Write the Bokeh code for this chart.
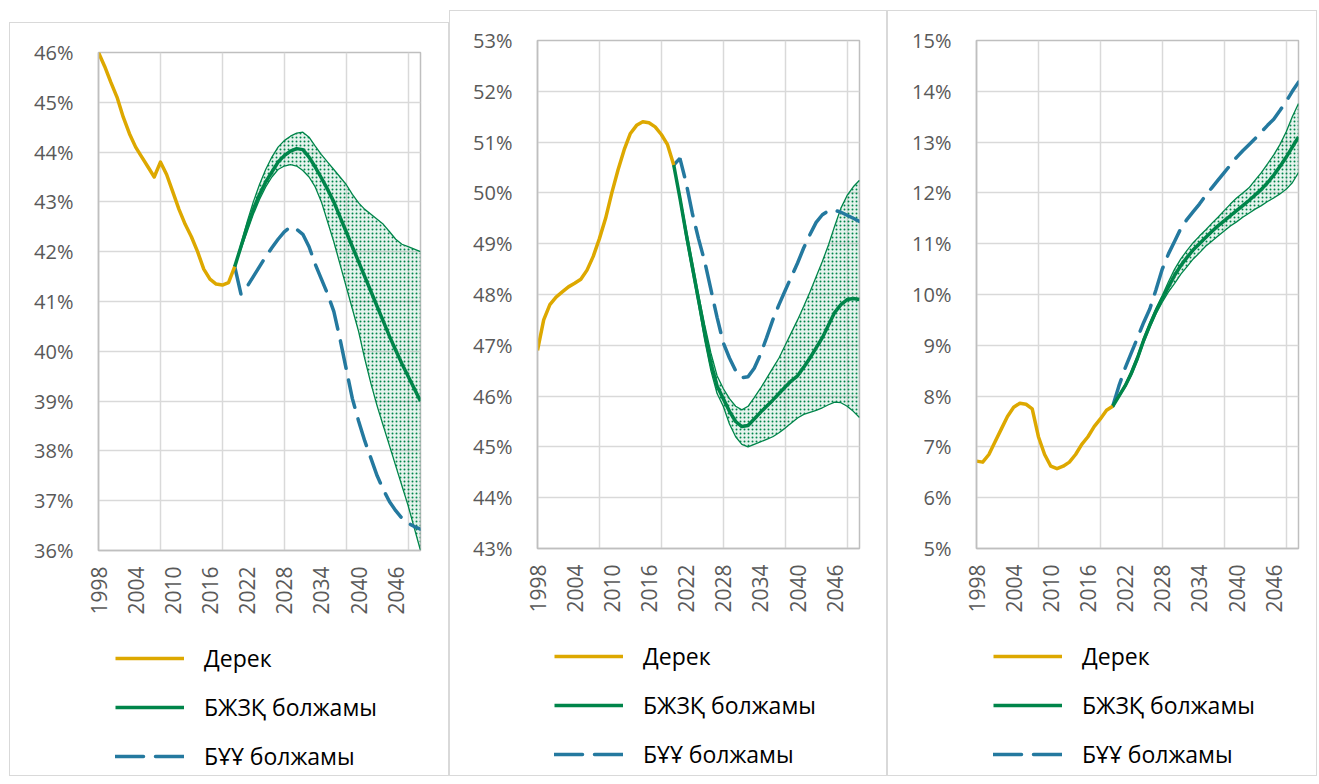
import math
from bokeh.plotting import figure
from bokeh.models import Range1d, FixedTicker, PrintfTickFormatter, Legend, LegendItem
from bokeh.layouts import row, column
from bokeh.embed import file_html
from bokeh.resources import INLINE

FONT = "Open Sans"
YELLOW = "#DDA800"
GREEN = "#00854A"
BLUE = "#24799F"
GRID = "#d9d9d9"
AXIS = "#bfbfbf"

years_hist = list(range(1998, 2021))
years_fc = list(range(2020, 2051))
x_tick_labels = list(range(1998, 2047, 6))
x_grid_years = list(range(1998, 2050, 10))
legend_labels = ["Дерек", "БЖЗҚ болжамы", "БҰҰ болжамы"]

p1_hist = [46.0, 45.72, 45.4, 45.1, 44.7, 44.37, 44.1, 43.9, 43.7, 43.5, 43.8, 43.55,
           43.2, 42.85, 42.55, 42.3, 42.0, 41.65, 41.45, 41.35, 41.33, 41.38, 41.7]
p1_central = [41.7, 42.1, 42.5, 42.85, 43.15, 43.4, 43.6, 43.8, 43.93, 44.02, 44.07, 44.05,
              43.9, 43.7, 43.48, 43.25, 43.0, 42.7, 42.4, 42.1, 41.8, 41.5, 41.2, 40.9,
              40.6, 40.3, 40.02, 39.75, 39.5, 39.25, 39.0]
p1_upper = [41.7, 42.15, 42.6, 43.0, 43.35, 43.65, 43.9, 44.1, 44.23, 44.32, 44.38, 44.4,
            44.3, 44.12, 43.95, 43.8, 43.65, 43.5, 43.35, 43.15, 42.98, 42.85, 42.75, 42.65,
            42.55, 42.4, 42.25, 42.15, 42.1, 42.05, 42.0]
p1_lower = [41.7, 42.05, 42.4, 42.75, 43.05, 43.3, 43.5, 43.65, 43.72, 43.75, 43.72, 43.63,
            43.5, 43.3, 43.0, 42.6, 42.2, 41.75, 41.3, 40.85, 40.4, 39.85, 39.35, 38.9,
            38.5, 38.1, 37.7, 37.3, 36.9, 36.45, 36.0]
p1_un = [41.7, 41.15, 41.3, 41.5, 41.7, 41.9, 42.08, 42.25, 42.4, 42.5, 42.45, 42.35,
         42.1, 41.75, 41.45, 41.15, 40.8, 40.25, 39.65, 39.05, 38.6, 38.2, 37.85, 37.5,
         37.22, 36.98, 36.8, 36.65, 36.55, 36.48, 36.43]

p2_hist = [46.9, 47.5, 47.8, 47.95, 48.05, 48.15, 48.22, 48.3, 48.48, 48.75, 49.1, 49.5,
           50.0, 50.45, 50.85, 51.17, 51.33, 51.4, 51.38, 51.3, 51.15, 50.95, 50.55]
p2_central = [50.55, 49.9, 49.2, 48.55, 47.9, 47.25, 46.65, 46.2, 45.95, 45.7, 45.5, 45.4,
              45.42, 45.55, 45.68, 45.8, 45.92, 46.05, 46.18, 46.3, 46.4, 46.57, 46.75,
              46.95, 47.15, 47.4, 47.65, 47.8, 47.9, 47.92, 47.9]
p2_upper = [50.55, 49.95, 49.3, 48.65, 48.0, 47.4, 46.85, 46.4, 46.15, 45.95, 45.8, 45.73,
            45.8, 45.97, 46.15, 46.35, 46.55, 46.75, 47.0, 47.25, 47.5, 47.77, 48.05,
            48.35, 48.65, 48.98, 49.35, 49.7, 49.95, 50.12, 50.25]
p2_lower = [50.55, 49.85, 49.1, 48.45, 47.8, 47.1, 46.5, 46.05, 45.8, 45.45, 45.2, 45.05,
            45.0, 45.05, 45.1, 45.15, 45.2, 45.28, 45.37, 45.47, 45.57, 45.64, 45.68,
            45.72, 45.77, 45.83, 45.88, 45.87, 45.8, 45.7, 45.58]
p2_un = [50.55, 50.68, 50.2, 49.6, 49.1, 48.65, 48.1, 47.55, 47.05, 46.75, 46.5, 46.36,
         46.38, 46.55, 46.82, 47.15, 47.5, 47.8, 48.08, 48.35, 48.62, 48.92, 49.18,
         49.42, 49.57, 49.65, 49.66, 49.62, 49.56, 49.5, 49.44]

p3_hist = [6.72, 6.7, 6.85, 7.1, 7.35, 7.6, 7.78, 7.86, 7.84, 7.75, 7.2, 6.85,
           6.62, 6.57, 6.62, 6.7, 6.85, 7.05, 7.2, 7.4, 7.55, 7.72, 7.8]
p3_central = [7.8, 8.0, 8.2, 8.45, 8.75, 9.1, 9.4, 9.68, 9.92, 10.15, 10.38, 10.57,
              10.73, 10.88, 11.0, 11.12, 11.24, 11.35, 11.45, 11.55, 11.65, 11.75,
              11.85, 11.96, 12.07, 12.2, 12.35, 12.52, 12.7, 12.9, 13.1]
p3_upper = [7.8, 8.02, 8.23, 8.5, 8.8, 9.15, 9.45, 9.73, 9.98, 10.25, 10.5, 10.7,
            10.87, 11.02, 11.15, 11.27, 11.4, 11.52, 11.65, 11.78, 11.9, 12.0, 12.1,
            12.25, 12.4, 12.57, 12.75, 12.95, 13.2, 13.5, 13.76]
p3_lower = [7.8, 7.98, 8.17, 8.4, 8.7, 9.05, 9.35, 9.62, 9.85, 10.05, 10.22, 10.4,
            10.55, 10.7, 10.82, 10.95, 11.05, 11.15, 11.25, 11.35, 11.43, 11.52, 11.6,
            11.68, 11.75, 11.83, 11.9, 11.98, 12.07, 12.2, 12.4]
p3_un = [7.8, 8.2, 8.55, 8.85, 9.15, 9.45, 9.72, 10.1, 10.5, 10.8, 11.05, 11.3,
         11.48, 11.63, 11.78, 11.95, 12.1, 12.25, 12.4, 12.55, 12.7, 12.83, 12.95,
         13.07, 13.2, 13.33, 13.45, 13.62, 13.8, 14.0, 14.18]

AXIS_AREA = 75


def series_lines(p, hist, central, un):
    r_un = p.line(years_fc, un, line_color=BLUE, line_width=3.5, line_dash="28 12",
                  line_cap="round")
    r_c = p.line(years_fc, central, line_color=GREEN, line_width=3.5, line_join="round")
    r_h = p.line(years_hist, hist, line_color=YELLOW, line_width=3.5, line_join="round")
    return r_h, r_c, r_un


def make_panel(hist, central, upper, lower, un, ylo, yhi,
               top, frame_h, total_h, left, right, margin):
    width = left + 322 + right
    p = figure(output_backend="svg", toolbar_location=None,
               frame_width=322, frame_height=frame_h,
               min_border_left=left, min_border_right=right,
               min_border_top=top, min_border_bottom=AXIS_AREA,
               x_range=Range1d(1998, 2050), y_range=Range1d(ylo, yhi),
               background_fill_color="white", border_fill_color="white")
    p.outline_line_color = AXIS
    p.outline_line_width = 1.5

    p.xaxis.ticker = FixedTicker(ticks=x_tick_labels)
    p.xgrid.ticker = FixedTicker(ticks=x_grid_years)
    p.yaxis.ticker = FixedTicker(ticks=list(range(ylo, yhi + 1)))
    p.yaxis.formatter = PrintfTickFormatter(format="%d%%")
    p.xaxis.major_label_orientation = math.pi / 2
    for ax in (p.xaxis[0], p.yaxis[0]):
        ax.axis_line_color = AXIS
        ax.axis_line_width = 1.5
        ax.major_tick_line_color = None
        ax.minor_tick_line_color = None
        ax.major_tick_out = 0
        ax.major_tick_in = 0
        ax.major_label_text_font = FONT
        ax.major_label_text_font_size = "21px"
        ax.major_label_text_color = "#595959"
    p.yaxis.major_label_text_font_size = "20px"
    p.xaxis.major_label_standoff = 16
    p.yaxis.major_label_standoff = 25
    p.xgrid.grid_line_color = GRID
    p.ygrid.grid_line_color = GRID
    p.xgrid.grid_line_width = 1.5
    p.ygrid.grid_line_width = 1.5

    p.varea(x=years_fc, y1=lower, y2=upper, fill_color=GREEN, fill_alpha=0.1,
            hatch_pattern="dot", hatch_color=GREEN, hatch_scale=4, hatch_weight=3)
    p.line(years_fc, upper, line_color=GREEN, line_width=1.3)
    p.line(years_fc, lower, line_color=GREEN, line_width=1.3)
    series_lines(p, hist, central, un)

    # legend strip below the plot (same series, outside its visible range)
    leg_h = total_h - (top + frame_h + AXIS_AREA)
    lf = figure(output_backend="svg", toolbar_location=None,
                width=width, height=leg_h, min_border=0,
                x_range=Range1d(0, 1), y_range=Range1d(0, 1),
                background_fill_color="white", border_fill_color="white")
    lf.axis.visible = False
    lf.grid.visible = False
    lf.outline_line_color = None
    r_h, r_c, r_un = series_lines(lf, hist, central, un)
    item_h, spacing = 31, 17
    legend_h = 3 * item_h + 2 * spacing
    legend = Legend(items=[LegendItem(label=legend_labels[0], renderers=[r_h]),
                           LegendItem(label=legend_labels[1], renderers=[r_c]),
                           LegendItem(label=legend_labels[2], renderers=[r_un])],
                    location=(17, leg_h - legend_h - 20), orientation="vertical",
                    border_line_color=None, background_fill_alpha=0,
                    padding=0, margin=0, spacing=spacing,
                    glyph_height=20, glyph_width=69, label_height=20,
                    label_standoff=20, label_text_font=FONT,
                    label_text_font_size="23px", label_text_color="#000000")
    lf.add_layout(legend)

    col = column(p, lf, spacing=0, styles={"border": "1px solid #d9d9d9"})
    col.margin = margin
    return col


c1 = make_panel(p1_hist, p1_central, p1_upper, p1_lower, p1_un, 36, 46,
                29, 498, 752, 88, 28, (22, 0, 0, 9))
c2 = make_panel(p2_hist, p2_central, p2_upper, p2_lower, p2_un, 43, 53,
                29, 508, 764, 87, 27, (10, 0, 0, 0))
c3 = make_panel(p3_hist, p3_central, p3_upper, p3_lower, p3_un, 5, 15,
                29, 508, 764, 88, 18, (10, 0, 0, 0))

layout = row(c1, c2, c3)
open("out.html", "w").write(file_html(layout, INLINE))
